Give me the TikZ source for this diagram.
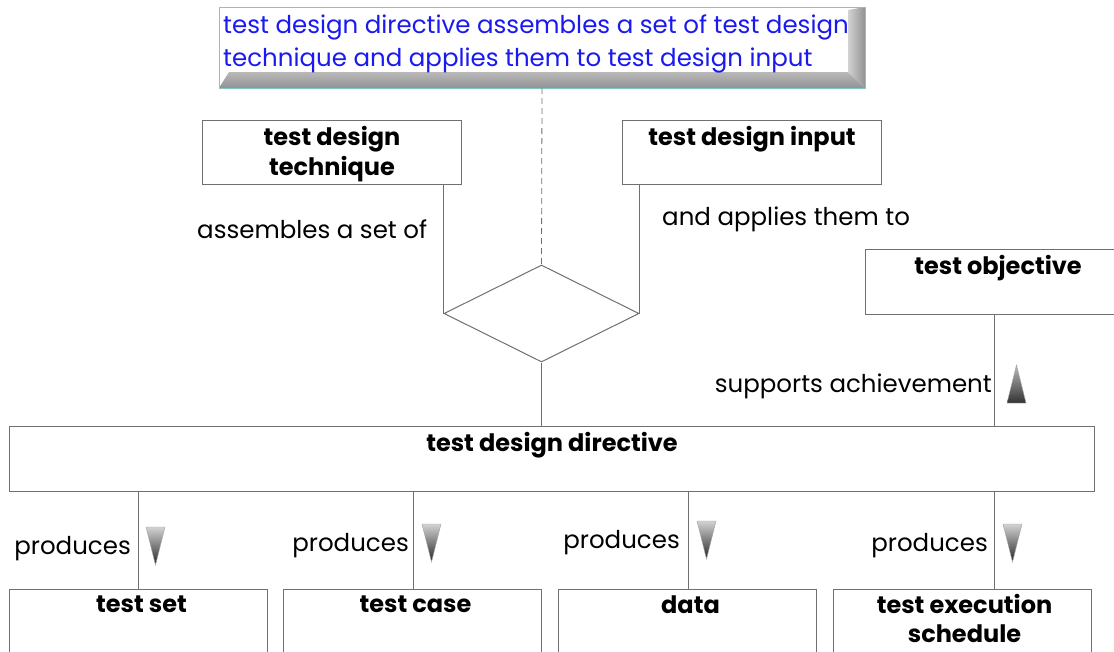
\documentclass[tikz,border=0pt]{standalone}
\usepackage{fontspec}
\setmainfont{Poppins}
\usetikzlibrary{shapes.geometric}
\definecolor{ln}{HTML}{707070}
\definecolor{tealb}{HTML}{80C8C8}
\definecolor{txtblue}{HTML}{1A1AF0}
\begin{document}
\begin{tikzpicture}[x=1pt,y=-1pt,
  box/.style={draw=ln, line width=1pt, fill=white, rectangle, anchor=north west, inner sep=0pt, minimum width=259pt, minimum height=64pt},
  lbl/.style={font=\fontsize{24.5}{30}\selectfont, inner sep=0pt, text=black},
  ttl/.style={font=\fontsize{24}{30}\selectfont\bfseries, align=center, anchor=north, inner sep=0pt, text=black},
  conn/.style={draw=ln, line width=1pt},
  tridown/.style={draw=gray!70, line width=0.4pt, top color=gray!35, bottom color=black!85},
  triup/.style={draw=gray!70, line width=0.4pt, top color=gray!55, bottom color=black!80}
]
\clip (0,0) rectangle (1114,651);
\fill[white] (0,0) rectangle (1114,651);

% top note with bevel
\node[draw=tealb, line width=1pt, fill=white, anchor=north west, inner sep=0pt, minimum width=645pt, minimum height=80pt] (note) at (219,7) {};
\shade[top color=gray!55, bottom color=gray!85] (note.south west) -- (229,72) -- (848,72) -- (note.south east) -- cycle;
\shade[left color=gray!35, right color=gray!85] (848,72) -- (848,10) -- (note.north east) -- (note.south east) -- cycle;
\draw[tealb, line width=1pt] (note.north west) rectangle (note.south east);
\node[font=\fontsize{24.5}{33}\selectfont, text=txtblue, align=left, anchor=north west, inner sep=0pt] (notetext) at (223,15)
  {test design directive assembles a set of test design\\technique and applies them to test design input};

% upper boxes
\node[box] (tech) at (202,120) {};
\node[ttl] (techt) at ([yshift=-6pt]tech.north) {test design\\technique};
\node[box] (inp) at (622,120) {};
\node[ttl] (inpt) at ([yshift=-6pt]inp.north) {test design input};

\node[lbl, anchor=west] (asm) at (197,229) {assembles a set of};
\node[lbl, anchor=west] (app) at (662,219) {and applies them to};

% diamond
\node[diamond, draw=ln, line width=1pt, inner sep=0pt, minimum width=195pt, minimum height=97pt] (dia) at (541.5,313.5) {};

% test objective
\node[box, minimum width=259pt, minimum height=65pt] (obj) at (865,249) {};
\node[ttl] (objt) at ([yshift=-6pt, xshift=3pt]obj.north) {test objective};

% directive
\node[box, minimum width=1085pt, minimum height=65pt] (dir) at (9,426) {};
\node[ttl] (dirt) at ([yshift=-6pt]dir.north) {test design directive};

% bottom boxes
\node[box, minimum width=258pt, minimum height=80pt] (bset) at (9,589) {};
\node[ttl] (bsett) at ([yshift=-7pt, xshift=3pt]bset.north) {test set};
\node[box, minimum width=258pt, minimum height=80pt] (bcase) at (283,589) {};
\node[ttl] (bcaset) at ([yshift=-7pt, xshift=3pt]bcase.north) {test case};
\node[box, minimum width=258pt, minimum height=80pt] (bdata) at (558,589) {};
\node[ttl] (bdatat) at ([yshift=-7pt, xshift=3pt]bdata.north) {data};
\node[box, minimum width=258pt, minimum height=80pt] (bsched) at (833,589) {};
\node[ttl, font=\fontsize{24}{29}\selectfont\bfseries] (bschedt) at ([yshift=-5pt, xshift=2pt]bsched.north) {test execution\\schedule};

% connectors
\draw[conn, line width=0.8pt, dash pattern=on 6pt off 4pt] (note.south) -- (dia.north);
\draw[conn] (tech.south -| dia.west) -- (dia.west);
\draw[conn] (inp.south -| dia.east) -- (dia.east);
\draw[conn] (dia.south) -- (dia.south |- dir.north);
\coordinate (objx) at (994,314);
\draw[conn] (objx) -- (objx |- dir.north);
\draw[conn] (bset.north -| 138,0) -- (dir.south -| 138,0);
\draw[conn] (bcase.north -| 413,0) -- (dir.south -| 413,0);
\draw[conn] (bdata.north -| 688,0) -- (dir.south -| 688,0);
\draw[conn] (bsched.north -| objx) -- (dir.south -| objx);

% labels
\node[lbl, anchor=east] (sup) at (992,386) {supports achievement};
\node[lbl, anchor=east] (p1) at (131,549) {produces};
\node[lbl, anchor=east] (p2) at (409,546) {produces};
\node[lbl, anchor=east] (p3) at (680,543) {produces};
\node[lbl, anchor=east] (p4) at (988,546) {produces};

% triangles
\path[triup] (1007,403) -- (1026,403) -- (1016.5,365) -- cycle;
\path[tridown] (146,527) -- (165,527) -- (155.5,565) -- cycle;
\path[tridown] (422,524) -- (441,524) -- (431.5,562) -- cycle;
\path[tridown] (697,521) -- (716,521) -- (706.5,559) -- cycle;
\path[tridown] (1003,524) -- (1022,524) -- (1012.5,562) -- cycle;
\end{tikzpicture}
\end{document}
